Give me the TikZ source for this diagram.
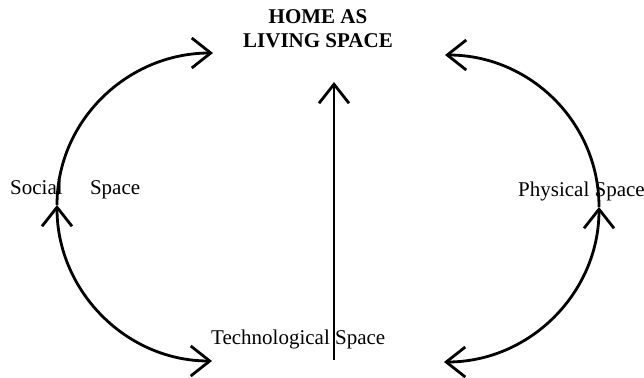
\documentclass[tikz,border=0pt]{standalone}
\usepackage{fontspec}
\setmainfont{Liberation Serif}
\usetikzlibrary{arrows.meta}

\begin{document}
\begin{tikzpicture}[x=1pt, y=1pt, font=\fontsize{21}{24}\selectfont,
    >={Straight Barb[length=19pt, width=30pt, line width=2.8pt]}]
  \tikzset{space text/.style={inner sep=0pt},
           link/.style={line width=2.8pt}}
  \useasboundingbox (0,0) rectangle (644,377);

  % Labels
  \node[space text, font=\fontsize{21}{24}\selectfont\bfseries, align=center, anchor=base] (home) at (318, 329) {HOME AS\\LIVING SPACE};
  \node[space text, anchor=base west] (social) at (10, 182) {Social\hspace{1.3em}Space};
  \node[space text, anchor=base west] (physical) at (518, 180) {Physical Space};
  \node[space text, anchor=base west] (techno) at (211, 33) {Technological Space};

  % Arc ends
  \coordinate (soc) at (57, 172);
  \coordinate (phys) at (599, 170);
  \coordinate (home left) at (213, 324);
  \coordinate (home right) at (445, 322);
  \coordinate (tech left) at (212, 16);
  \coordinate (tech right) at (444, 15);
  \coordinate (tech base) at (334, 17);
  \coordinate (home base) at (334, 295);

  % Left side
  \draw[link, ->] (soc) to[out=90, in=180] (home left);
  \draw[link, <->] (soc) to[out=-90, in=180] (tech left);

  % Right side
  \draw[link, ->] (phys) to[out=90, in=0] (home right);
  \draw[link, <->] (phys) to[out=-90, in=0] (tech right);

  % Middle arrow
  \draw[link, ->] (tech base) -- (home base);
\end{tikzpicture}
\end{document}
